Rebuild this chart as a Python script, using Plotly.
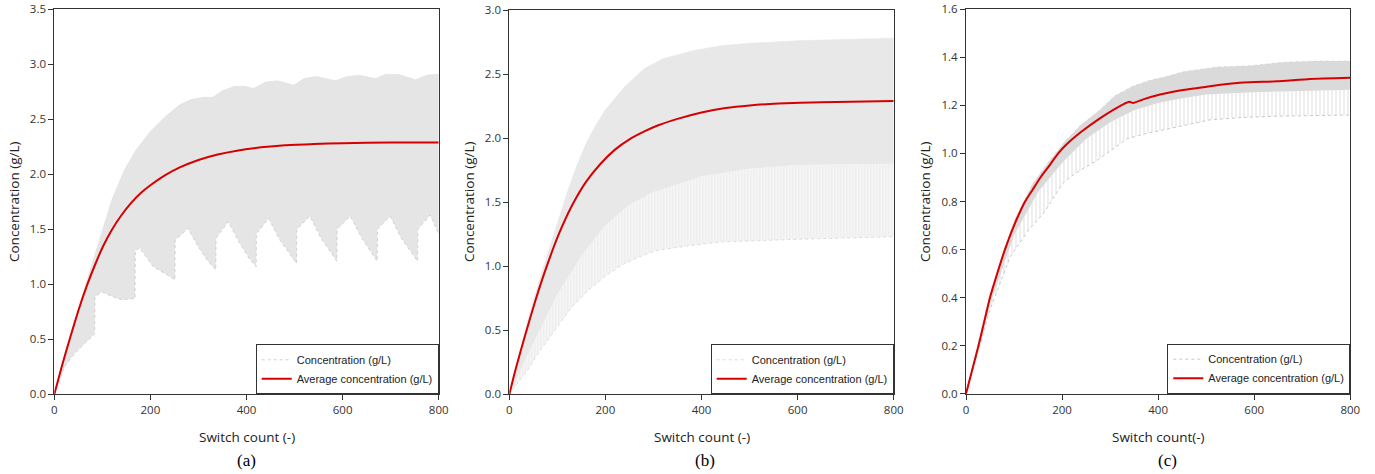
import plotly.graph_objects as go

# ---------------- data ----------------
# Panel (a)
a_avg_x = [0, 8, 16, 32, 50, 68, 85, 102, 119, 140, 160, 180, 200, 230, 260, 300, 340, 380, 430, 480, 540, 600, 700, 800]
a_avg_y = [0, 0.13, 0.26, 0.50, 0.76, 0.99, 1.18, 1.35, 1.49, 1.63, 1.74, 1.83, 1.90, 1.99, 2.06, 2.13, 2.18, 2.215, 2.245, 2.265, 2.275, 2.283, 2.288, 2.29]
a_up_x = [0, 20, 40, 60, 75, 95, 120, 145, 170, 200, 230, 260, 285, 310, 330, 350, 375, 395, 415, 440, 465, 498,
          520, 545, 585, 610, 635, 668, 690, 715, 752, 775, 800]
a_up_y = [0, 0.34, 0.64, 0.92, 1.15, 1.43, 1.77, 2.03, 2.22, 2.39, 2.52, 2.63, 2.68, 2.70, 2.70, 2.76, 2.80, 2.80, 2.78, 2.84, 2.85, 2.81,
          2.87, 2.89, 2.85, 2.89, 2.90, 2.87, 2.91, 2.91, 2.86, 2.90, 2.91]
a_lo_x = [0, 21, 42, 69, 84, 84.5, 100, 120, 140, 168, 168.5, 178, 192, 206, 230, 251, 251.5, 278, 300, 320, 336,
          336.5, 362, 385, 405, 420, 420.5, 446, 470, 490, 504, 504.5, 532, 555, 575, 588, 588.5, 616, 640, 660, 672,
          672.5, 699, 722, 742, 756, 756.5, 782, 800]
a_lo_y = [0, 0.25, 0.37, 0.49, 0.55, 0.89, 0.93, 0.89, 0.86, 0.87, 1.31, 1.33, 1.24, 1.16, 1.10, 1.04, 1.40, 1.51, 1.34, 1.21, 1.13,
          1.42, 1.57, 1.38, 1.24, 1.16, 1.46, 1.60, 1.40, 1.27, 1.19, 1.50, 1.62, 1.42, 1.29, 1.21, 1.50, 1.62, 1.42, 1.29, 1.21,
          1.50, 1.62, 1.42, 1.29, 1.21, 1.50, 1.63, 1.46]

# Panel (b)
b_avg_x = [0, 10, 20, 36, 55, 78, 103, 130, 160, 190, 220, 250, 280, 310, 350, 400, 450, 500, 560, 650, 800]
b_avg_y = [0, 0.15, 0.29, 0.50, 0.74, 1.00, 1.25, 1.47, 1.66, 1.80, 1.91, 1.99, 2.05, 2.10, 2.15, 2.20, 2.235, 2.255, 2.27, 2.28, 2.29]
b_up_x = [0, 20, 40, 60, 80, 100, 120, 140, 160, 180, 200, 240, 280, 320, 380, 440, 500, 600, 700, 800]
b_up_y = [0, 0.31, 0.60, 0.86, 1.10, 1.34, 1.57, 1.78, 1.96, 2.10, 2.22, 2.40, 2.54, 2.62, 2.68, 2.72, 2.74, 2.76, 2.77, 2.78]
b_mid_x = [0, 50, 100, 150, 200, 250, 300, 400, 500, 600, 800]
b_mid_y = [0, 0.40, 0.78, 1.08, 1.32, 1.48, 1.58, 1.70, 1.76, 1.79, 1.80]
b_lo_x = [0, 20, 40, 60, 95, 130, 164, 199, 234, 269, 303, 373, 442, 511, 600, 700, 800]
b_lo_y = [0, 0.10, 0.20, 0.32, 0.50, 0.68, 0.81, 0.92, 1.01, 1.07, 1.12, 1.16, 1.19, 1.20, 1.21, 1.22, 1.23]

# Panel (c)
c_avg_x = [0, 13, 26, 38, 50, 65, 81, 100, 123, 139, 155, 170, 192, 208, 240, 278, 314, 340, 348, 369, 404, 439, 473, 508, 577, 647, 716, 800]
c_avg_y = [0, 0.10, 0.20, 0.30, 0.40, 0.50, 0.60, 0.70, 0.80, 0.85, 0.90, 0.94, 1.00, 1.035, 1.09, 1.145, 1.19, 1.215, 1.21, 1.225, 1.245, 1.26, 1.27, 1.28, 1.295, 1.30, 1.31, 1.315]
c_up_x = [0, 50, 100, 139, 170, 208, 240, 278, 310, 347, 383, 417, 452, 522, 591, 661, 730, 800]
c_up_y = [0, 0.42, 0.72, 0.875, 0.96, 1.055, 1.12, 1.18, 1.24, 1.28, 1.305, 1.32, 1.34, 1.36, 1.365, 1.38, 1.385, 1.385]
c_dense_x = [0, 50, 100, 150, 200, 250, 300, 350, 400, 450, 500, 600, 700, 800]
c_dense_y = [0, 0.37, 0.66, 0.84, 0.96, 1.06, 1.13, 1.18, 1.21, 1.23, 1.245, 1.255, 1.26, 1.265]
c_lo_x = [0, 50, 92, 130, 161, 203, 230, 272, 314, 334, 369, 439, 473, 508, 577, 647, 800]
c_lo_y = [0, 0.35, 0.57, 0.68, 0.75, 0.88, 0.92, 0.97, 1.03, 1.06, 1.08, 1.11, 1.125, 1.14, 1.15, 1.155, 1.16]

x_ticks = [0, 200, 400, 600, 800]
y_ranges = [[0, 3.5], [0, 3.0], [0, 1.6]]
y_dticks = [0.5, 0.5, 0.2]
conc_name = "Concentration (g/L)"
avg_name = "Average concentration (g/L)"
x_titles = ["Switch count (-)", "Switch count (-)", "Switch count(-)"]
y_title = "Concentration (g/L)"
panel_labels = ["(a)", "(b)", "(c)"]

# ---------------- layout geometry (page pixels) ----------------
W, H = 1375, 474
def fx(p):
    return p / W
def fy(p):
    return 1 - p / H

panels = [
    dict(x0=54.3, x1=438.7, top=9.3, bottom=394.3, ytx=14, xtx=247, lab=246),
    dict(x0=509.3, x1=893.7, top=10.0, bottom=394.3, ytx=469, xtx=702, lab=705),
    dict(x0=966.0, x1=1350.3, top=9.3, bottom=393.7, ytx=925, xtx=1158, lab=1167),
]

RED = "#d60000"
fig = go.Figure()

def ax_names(i):
    s = "" if i == 0 else str(i + 1)
    return "x" + s, "y" + s, "legend" + s

RED_LINE = dict(color=RED, width=2, shape="spline", smoothing=0.5)

# Panel (a)
xa, ya, lg = ax_names(0)
fig.add_trace(go.Scatter(x=a_lo_x, y=a_lo_y, mode="lines", name=conc_name, legend=lg,
                         line=dict(color="#cfcfcf", width=1, dash="dot"), xaxis=xa, yaxis=ya))
fig.add_trace(go.Scatter(x=a_up_x, y=a_up_y, mode="lines", fill="tonexty", fillcolor="#e5e5e5",
                         line=dict(color="#dddddd", width=0.5), showlegend=False, xaxis=xa, yaxis=ya))
fig.add_trace(go.Scatter(x=a_avg_x, y=a_avg_y, mode="lines", name=avg_name, legend=lg,
                         line=RED_LINE, xaxis=xa, yaxis=ya))

# Panel (b)
xa, ya, lg = ax_names(1)
fig.add_trace(go.Scatter(x=b_lo_x, y=b_lo_y, mode="lines", name=conc_name, legend=lg,
                         line=dict(color="#dcdcdc", width=1, dash="dot"), xaxis=xa, yaxis=ya))
fig.add_trace(go.Scatter(x=b_mid_x, y=b_mid_y, mode="lines", fill="tonexty",
                         fillpattern=dict(shape="|", fgcolor="#e4e4e4", bgcolor="#f5f5f5", size=3, solidity=0.35),
                         line=dict(color="#eeeeee", width=0), showlegend=False, xaxis=xa, yaxis=ya))
fig.add_trace(go.Scatter(x=b_up_x, y=b_up_y, mode="lines", fill="tonexty", fillcolor="#e8e8e8",
                         line=dict(color="#e4e4e4", width=0.5), showlegend=False, xaxis=xa, yaxis=ya))
fig.add_trace(go.Scatter(x=b_avg_x, y=b_avg_y, mode="lines", name=avg_name, legend=lg,
                         line=RED_LINE, xaxis=xa, yaxis=ya))

# Panel (c)
xa, ya, lg = ax_names(2)
fig.add_trace(go.Scatter(x=c_lo_x, y=c_lo_y, mode="lines", name=conc_name, legend=lg,
                         line=dict(color="#c8c8c8", width=1, dash="dot"), xaxis=xa, yaxis=ya))
fig.add_trace(go.Scatter(x=c_dense_x, y=c_dense_y, mode="lines", fill="tonexty",
                         fillpattern=dict(shape="|", fgcolor="#bdbdbd", bgcolor="#ffffff", size=4, solidity=0.25),
                         line=dict(color="#d0d0d0", width=0), showlegend=False, xaxis=xa, yaxis=ya))
fig.add_trace(go.Scatter(x=c_up_x, y=c_up_y, mode="lines", fill="tonexty", fillcolor="#dadada",
                         line=dict(color="#cccccc", width=0.5, dash="dot"), showlegend=False, xaxis=xa, yaxis=ya))
fig.add_trace(go.Scatter(x=c_avg_x, y=c_avg_y, mode="lines", name=avg_name, legend=lg,
                         line=RED_LINE, xaxis=xa, yaxis=ya))

AXFONT = dict(family="Open Sans, Noto Sans, sans-serif", size=11.5, color="#333333")
TFONT = dict(family="Open Sans, Noto Sans, sans-serif", size=13.5, color="#222222")
layout = dict(width=W, height=H, autosize=False, margin=dict(l=0, r=0, t=0, b=0, autoexpand=False),
              paper_bgcolor="white", plot_bgcolor="white", annotations=[])

for i, p in enumerate(panels):
    s = "" if i == 0 else str(i + 1)
    layout["xaxis" + s] = dict(domain=[fx(p["x0"]), fx(p["x1"])], range=[0, 800], tickvals=x_ticks,
                               anchor="y" + s, showline=True, linecolor="#333333", linewidth=1, mirror=True,
                               ticks="outside", ticklen=5, tickcolor="#333333", showgrid=False, zeroline=False,
                               tickfont=AXFONT, automargin=False, ticklabeloverflow="allow")
    layout["yaxis" + s] = dict(domain=[fy(p["bottom"]), fy(p["top"])], range=y_ranges[i], dtick=y_dticks[i],
                               tick0=0, tickformat=".1f", anchor="x" + s, showline=True, linecolor="#333333",
                               linewidth=1, mirror=True, ticks="outside", ticklen=5, tickcolor="#333333",
                               showgrid=False, zeroline=False, tickfont=AXFONT, automargin=False,
                               ticklabeloverflow="allow")
    layout["legend" + s] = dict(x=fx(p["x1"]), xanchor="right", y=fy(p["bottom"]), yanchor="bottom",
                                bgcolor="white", bordercolor="#333333", borderwidth=1,
                                font=dict(family="Liberation Sans, Arial, sans-serif", size=11, color="#222222"),
                                traceorder="normal", tracegroupgap=0, itemwidth=30)
    layout["annotations"].append(dict(text=y_title, x=fx(p["ytx"]), y=fy(202), xref="paper", yref="paper",
                                      showarrow=False, textangle=-90, xanchor="center", yanchor="middle",
                                      font=TFONT))
    layout["annotations"].append(dict(text=x_titles[i], x=fx(p["xtx"]), y=fy(437), xref="paper", yref="paper",
                                      showarrow=False, xanchor="center", yanchor="middle", font=TFONT))
    layout["annotations"].append(dict(text=panel_labels[i], x=fx(p["lab"]), y=fy(460), xref="paper", yref="paper",
                                      showarrow=False, xanchor="center", yanchor="middle",
                                      font=dict(family="Liberation Serif, Times New Roman, serif", size=17, color="#000000")))

fig.update_layout(**layout)
# remove the browser's default 8px body margin so the figure sits at the page's top-left corner
fig.write_html("out.html", config={"displayModeBar": False},
               post_script="document.body.style.margin='0px';")
